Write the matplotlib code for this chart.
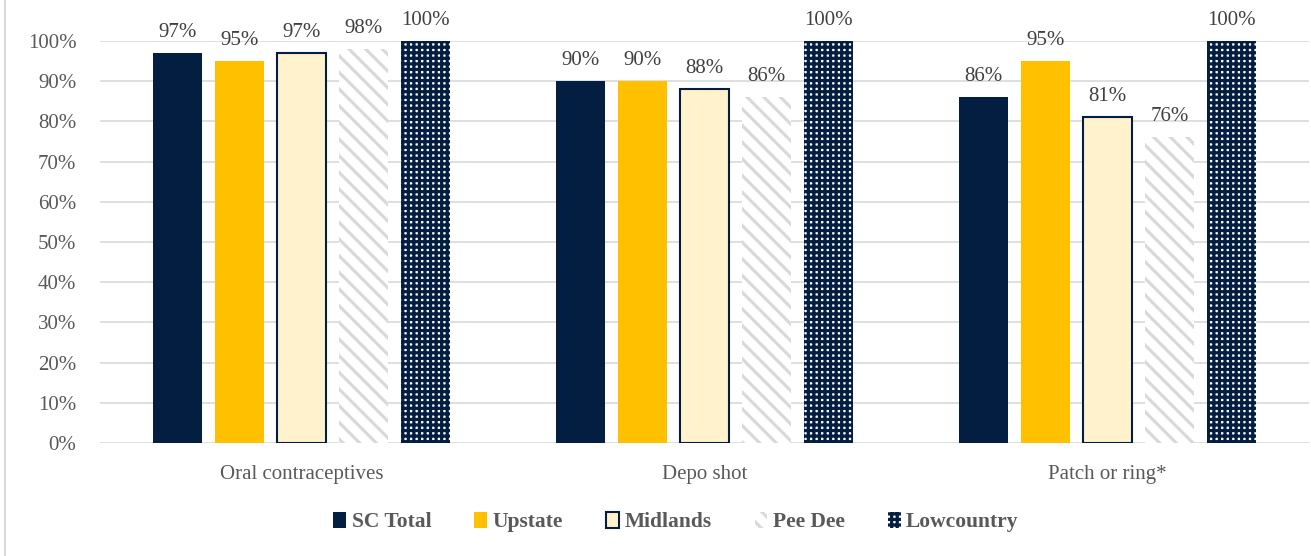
import matplotlib.pyplot as plt
from matplotlib.lines import Line2D
from matplotlib.ticker import PercentFormatter
import numpy as np

plt.rcParams["font.family"] = ["Liberation Serif", "DejaVu Serif"]
plt.rcParams["hatch.linewidth"] = 2.3

methods = ["Oral contraceptives", "Depo shot", "Patch or ring*"]
regions = ["SC Total", "Upstate", "Midlands", "Pee Dee", "Lowcountry"]
sc_total = [97, 90, 86]
upstate = [95, 90, 95]
midlands = [97, 88, 81]
pee_dee = [98, 86, 76]
lowcountry = [100, 100, 100]
values = [sc_total, upstate, midlands, pee_dee, lowcountry]

NAVY = "#041E42"
GOLD = "#FFC000"
CREAM = "#FFF2CC"
STRIPE = "#D9D9D9"
TEXT = "#595959"

styles = [
    dict(facecolor=NAVY, edgecolor=NAVY, linewidth=0),
    dict(facecolor=GOLD, edgecolor=GOLD, linewidth=0),
    dict(facecolor=CREAM, edgecolor=NAVY, linewidth=1.5),
    dict(facecolor="white", edgecolor=STRIPE, linewidth=0, hatch="\\\\"),
    dict(facecolor="white", edgecolor=NAVY, linewidth=0, hatch="+++"),
]

fig = plt.figure(figsize=(13.11, 5.56), dpi=100)
ax = fig.add_axes([100 / 1311, 1 - 443 / 556, 1209 / 1311, 402 / 556])

x = np.arange(len(methods))
width = 0.1216
step = 0.154

for i, (name, vals, st) in enumerate(zip(regions, values, styles)):
    xs = x + (i - 2) * step
    bars = ax.bar(xs, vals, width=width, label=name, zorder=3, **st)
    for bar, v in zip(bars, vals):
        ax.annotate(f"{v}%", (bar.get_x() + bar.get_width() / 2, v),
                    xytext=(0, 8), textcoords="offset points",
                    ha="center", va="bottom", fontsize=15,
                    color="#404040", annotation_clip=False)

ax.set_xlim(-0.5, 2.5)
ax.set_ylim(0, 100)
ax.set_yticks(range(0, 101, 10))
ax.yaxis.set_major_formatter(PercentFormatter(decimals=0))
ax.set_xticks(x, methods)
ax.tick_params(axis="both", length=0, labelsize=15, labelcolor=TEXT)
ax.tick_params(axis="x", pad=16)
ax.tick_params(axis="y", pad=17)
ax.grid(axis="y", color="#D9D9D9", linewidth=1.2, zorder=0)
for s in ax.spines.values():
    s.set_visible(False)

leg = fig.legend(loc="center", bbox_to_anchor=(676 / 1311, 1 - 522 / 556),
                 ncol=5, frameon=False, handlelength=0.6, handleheight=0.8,
                 handletextpad=0.25, columnspacing=2.0,
                 prop={"weight": "bold", "size": 15.5})
for t in leg.get_texts():
    t.set_color(TEXT)

# chart area border on the left
fig.add_artist(Line2D([5 / 1311, 5 / 1311], [0, 1], color="#D9D9D9",
                      linewidth=1.5, transform=fig.transFigure))

fig.savefig("out.png", dpi=100)
